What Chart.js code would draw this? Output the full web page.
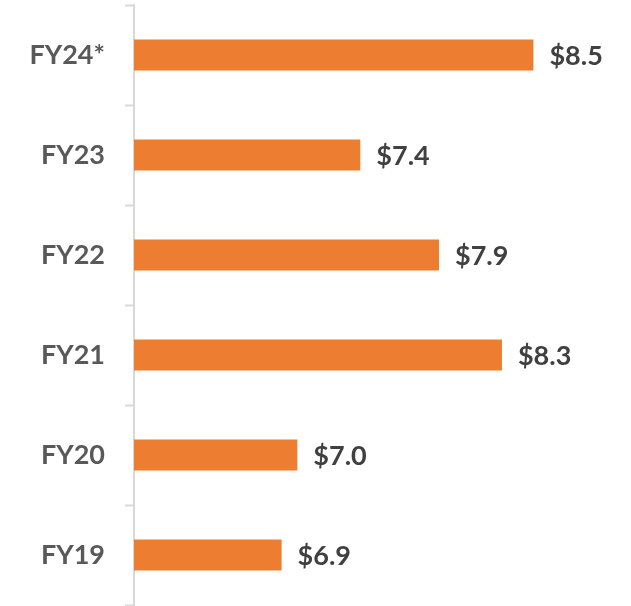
<!DOCTYPE html>
<html>
<head>
<meta charset="utf-8">
<script src="https://cdn.jsdelivr.net/npm/chart.js@4/dist/chart.umd.min.js"></script>
<style>
html,body{margin:0;padding:0;background:#fff;}
#wrap{width:631px;height:606px;position:relative;}
</style>
</head>
<body>
<div id="wrap"><canvas id="c"></canvas></div>
<script>
const categories = ["FY24*", "FY23", "FY22", "FY21", "FY20", "FY19"];
const values = [8.5, 7.4, 7.9, 8.3, 7.0, 6.9];
const valueLabels = values.map(v => "$" + v.toFixed(1));

const FONT = "Lato, 'Open Sans', sans-serif";

const valueLabelPlugin = {
  id: "valueLabels",
  afterDatasetsDraw(chart) {
    const ctx = chart.ctx;
    const meta = chart.getDatasetMeta(0);
    ctx.save();
    ctx.font = "bold 27px " + FONT;
    ctx.fillStyle = "#404040";
    ctx.textAlign = "left";
    ctx.textBaseline = "middle";
    meta.data.forEach((bar, i) => {
      ctx.fillText(valueLabels[i], bar.x + 16, bar.y + 1);
    });
    ctx.restore();
  }
};

new Chart(document.getElementById("c"), {
  type: "bar",
  data: {
    labels: categories,
    datasets: [{
      data: values,
      backgroundColor: "#ED7D31",
      borderWidth: 0,
      categoryPercentage: 1,
      barPercentage: 0.31
    }]
  },
  plugins: [valueLabelPlugin],
  options: {
    indexAxis: "y",
    responsive: true,
    maintainAspectRatio: false,
    animation: false,
    layout: { padding: { top: 5, bottom: 1, left: 0, right: 0 } },
    plugins: { legend: { display: false }, tooltip: { enabled: false } },
    scales: {
      x: {
        display: false,
        min: 5.962,
        max: 9.12
      },
      y: {
        afterFit(scale) {
          scale.width = 134;
          scale.paddingTop = 0;
          scale.paddingBottom = 0;
        },
        border: { display: true, color: "#d9d9d9", width: 2 },
        grid: {
          display: true,
          drawOnChartArea: false,
          drawTicks: true,
          tickLength: 9,
          tickWidth: 2,
          tickColor: "#d9d9d9",
          offset: true
        },
        ticks: {
          padding: 20,
          color: "#595959",
          font: { family: FONT, size: 27, weight: "bold" }
        }
      }
    }
  }
});
</script>
</body>
</html>
